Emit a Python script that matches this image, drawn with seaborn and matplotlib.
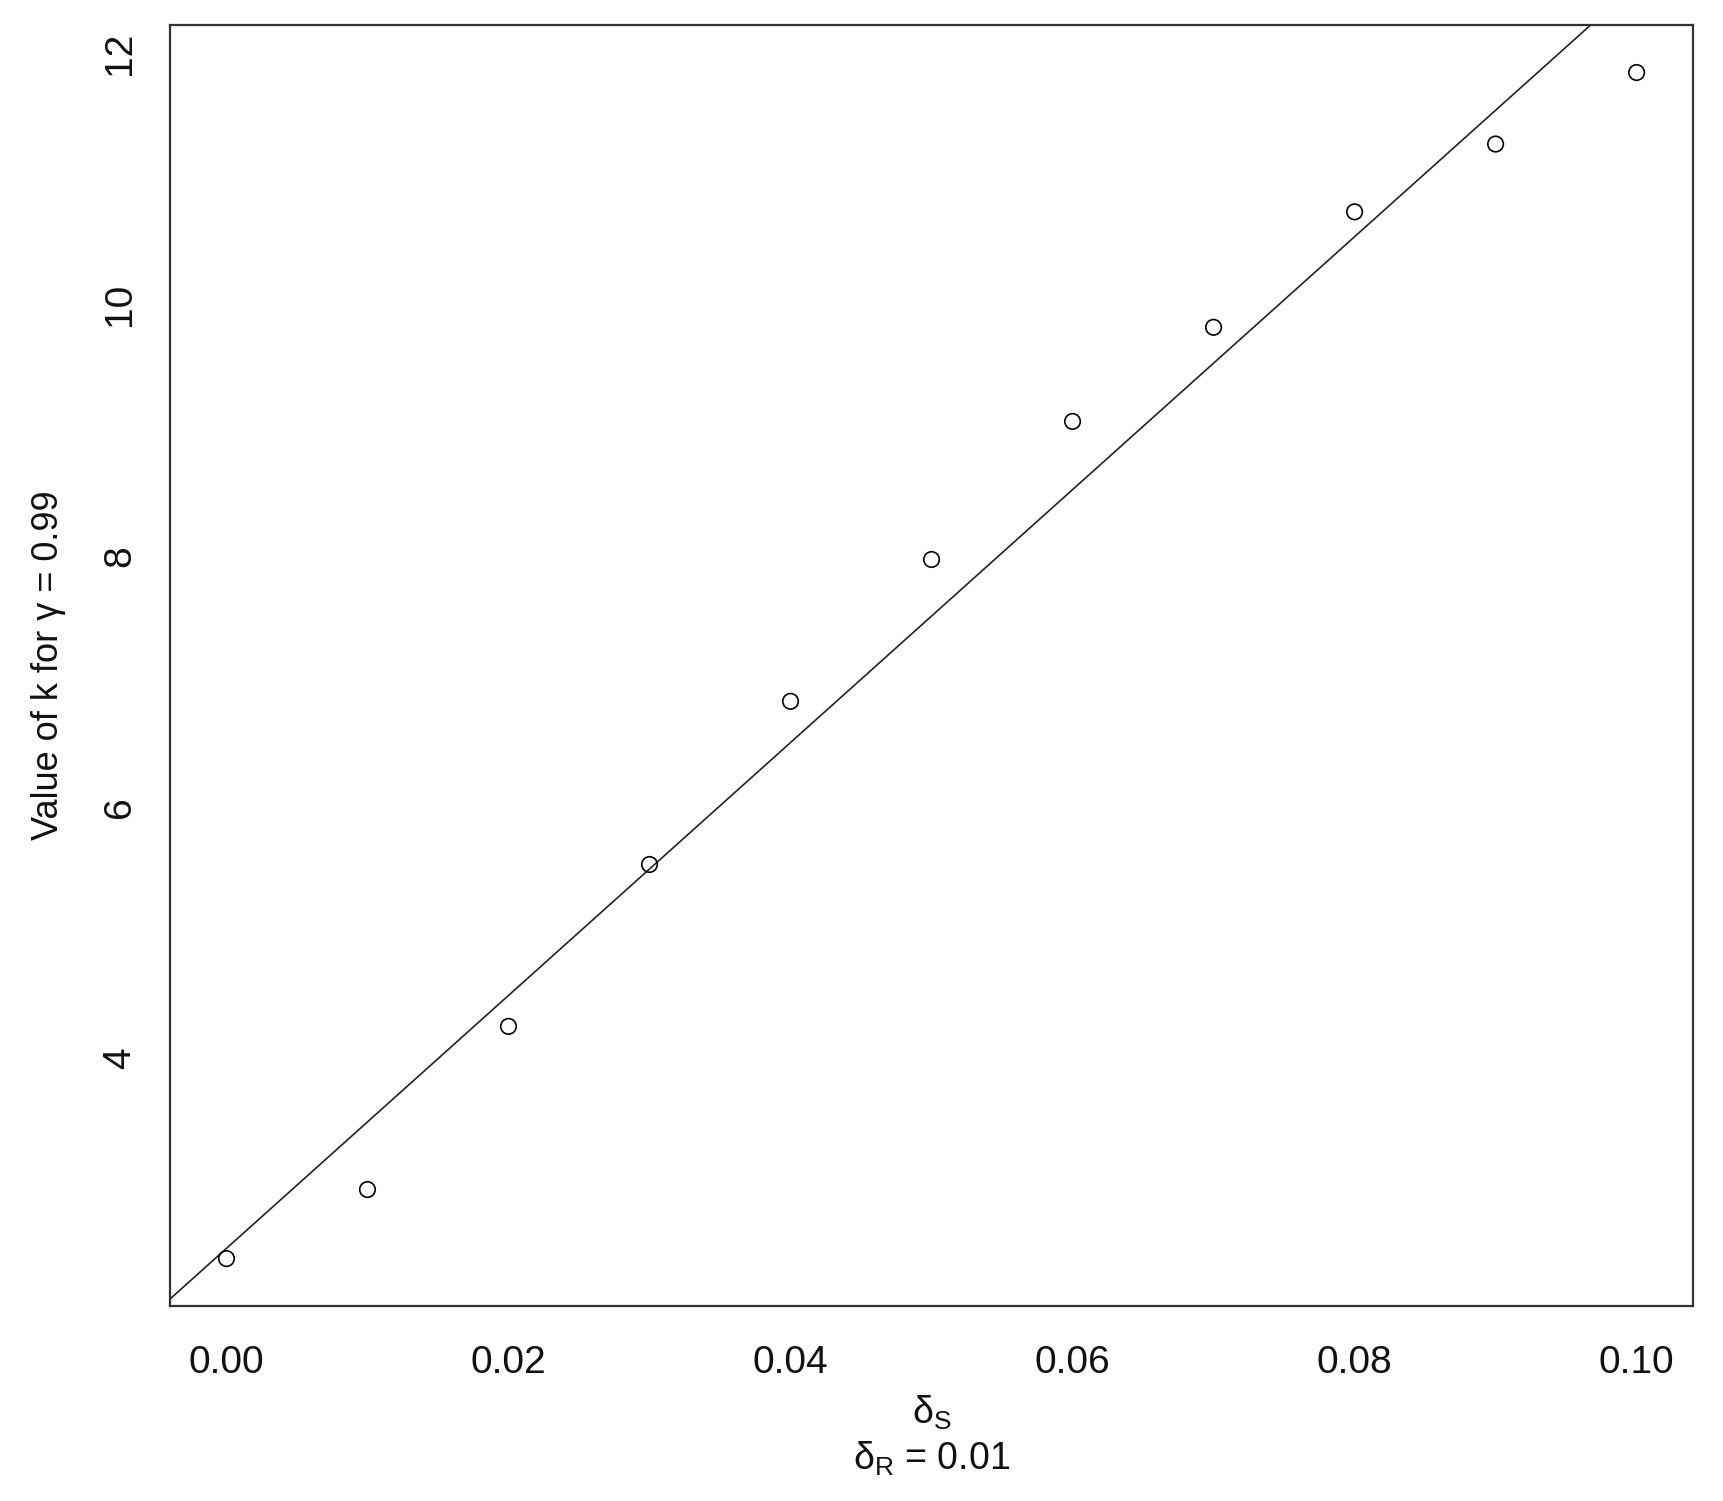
import numpy as np
import pandas as pd
import matplotlib
matplotlib.use("Agg")
import matplotlib.pyplot as plt
import seaborn as sns

# values
delta_s = [0.00, 0.01, 0.02, 0.03, 0.04, 0.05, 0.06, 0.07, 0.08, 0.09, 0.10]
k_value = [2.40, 2.95, 4.25, 5.54, 6.84, 7.97, 9.07, 9.82, 10.74, 11.28, 11.85]
x_ticks = [0.00, 0.02, 0.04, 0.06, 0.08, 0.10]
y_ticks = [4, 6, 8, 10, 12]

df = pd.DataFrame({"ds": delta_s, "k": k_value})

sns.set_theme(style="white")
plt.rcParams["font.family"] = ["Liberation Sans", "DejaVu Sans"]
plt.rcParams["mathtext.fontset"] = "custom"
plt.rcParams["mathtext.rm"] = "Liberation Sans"
plt.rcParams["mathtext.it"] = "Liberation Sans"
plt.rcParams["mathtext.bf"] = "Liberation Sans"

fig = plt.figure(figsize=(17.23, 15.01), dpi=100)
ax = fig.add_axes([0.0987, 0.1299, 0.8839, 0.8534])

sns.scatterplot(data=df, x="ds", y="k", ax=ax, marker="o", s=125,
                facecolor="none", edgecolor="black", linewidth=1.2, zorder=3)

# least squares line like abline(lm(...))
slope, intercept = np.polyfit(df["ds"], df["k"], 1)
ax.axline((0, intercept), slope=slope, color="#222222", lw=1.2)

# R style 4% padding around the data
xr = max(delta_s) - min(delta_s)
yr = max(k_value) - min(k_value)
ax.set_xlim(min(delta_s) - 0.04 * xr, max(delta_s) + 0.04 * xr)
ax.set_ylim(min(k_value) - 0.04 * yr, max(k_value) + 0.04 * yr)

ax.set_xticks(x_ticks)
ax.set_xticklabels([f"{v:.2f}" for v in x_ticks])
ax.set_yticks(y_ticks)
ax.set_yticklabels([str(v) for v in y_ticks])
ax.tick_params(axis="both", direction="in", length=9.5, width=1.3,
               color="#222222", labelsize=28, labelcolor="#111111")
ax.tick_params(axis="x", pad=28)
ax.tick_params(axis="y", pad=23, labelrotation=90)
for lab in ax.get_yticklabels():
    lab.set_va("center")

for sp in ax.spines.values():
    sp.set_visible(True)
    sp.set_linewidth(1.6)
    sp.set_color("#333333")

ax.set_xlabel(r"$\mathrm{δ}_{\mathrm{S}}$", fontsize=27, color="#111111")
ax.xaxis.set_label_coords(0.5, -0.0685)
ax.xaxis.label.set_va("top")
ax.text(0.5, -0.1045, r"$\mathrm{δ}_{\mathrm{R}}$ = 0.01", transform=ax.transAxes,
        ha="center", va="top", fontsize=27, color="#111111")

ax.set_ylabel("Value of k for γ = 0.99", fontsize=26, color="#111111")
ax.yaxis.set_label_coords(-0.068, 0.5)

fig.savefig("out.png", dpi=100)
